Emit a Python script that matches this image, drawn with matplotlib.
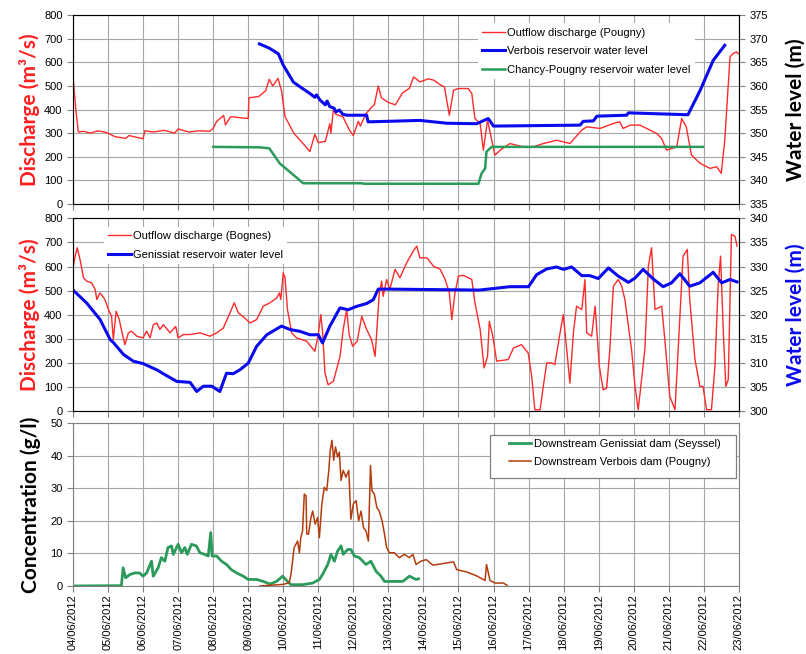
import matplotlib
matplotlib.use('Agg')
import matplotlib.pyplot as plt
from matplotlib.patches import Rectangle

# x = days since 04/06/2012 00:00
date_labels = ['%02d/06/2012' % d for d in range(4, 24)]

# top panel: Pougny discharge (m3/s)
pougny_q = [(0, 540), (0.08, 400), (0.15, 305), (0.3, 308), (0.5, 300), (0.7, 310), (0.9, 305),
            (1.0, 300), (1.2, 285), (1.5, 278), (1.6, 290), (1.8, 283), (2.0, 276), (2.05, 310),
            (2.3, 305), (2.6, 312), (2.9, 300), (3.0, 318), (3.3, 305), (3.6, 310), (3.9, 308),
            (4.0, 320), (4.1, 350), (4.3, 375), (4.35, 335), (4.5, 370), (4.8, 365), (5.0, 362),
            (5.02, 450), (5.3, 455), (5.5, 480), (5.6, 528), (5.7, 500), (5.85, 532), (5.95, 480),
            (6.05, 370), (6.3, 300), (6.6, 250), (6.76, 222), (6.9, 295), (7.0, 260), (7.2, 265),
            (7.33, 340), (7.36, 300), (7.43, 400), (7.5, 380), (7.7, 370), (7.9, 310), (8.0, 290),
            (8.14, 350), (8.2, 330), (8.35, 380), (8.52, 410), (8.6, 420), (8.71, 500), (8.8, 450),
            (9.0, 430), (9.2, 420), (9.4, 470), (9.6, 490), (9.72, 538), (9.9, 517), (10.14, 530),
            (10.3, 524), (10.5, 503), (10.6, 496), (10.74, 376), (10.86, 482), (11.0, 489),
            (11.28, 489), (11.38, 468), (11.47, 362), (11.62, 341), (11.71, 228), (11.83, 355),
            (11.9, 306), (12.04, 207), (12.19, 228), (12.47, 256), (12.85, 242), (13.13, 242),
            (13.42, 256), (13.8, 270), (14.0, 263), (14.18, 256), (14.52, 313), (14.66, 327),
            (15.04, 320), (15.42, 341), (15.6, 348), (15.7, 320), (15.9, 334), (16.18, 334),
            (16.37, 320), (16.66, 298), (16.8, 277), (16.94, 228), (17.23, 242), (17.37, 362),
            (17.5, 327), (17.65, 207), (17.9, 172), (18.18, 151), (18.37, 158), (18.5, 130),
            (18.6, 270), (18.75, 623), (18.84, 637), (18.94, 644), (19.0, 635)]

# top panel: water levels (m)
verbois_h = [(5.32, 368.9), (5.6, 368.0), (5.86, 366.8), (6.0, 364.4), (6.29, 360.8), (6.5, 359.7),
             (6.76, 358.4), (6.9, 357.6), (6.95, 358.1), (7.05, 357.0), (7.2, 356.0), (7.25, 356.8),
             (7.33, 355.6), (7.45, 355.3), (7.5, 354.5), (7.6, 354.9), (7.7, 354.0), (7.81, 353.8),
             (8.38, 353.8), (8.42, 352.4), (8.95, 352.5), (9.9, 352.7), (10.67, 352.1),
             (11.52, 352.0), (11.85, 353.1), (12.0, 351.5), (14.47, 351.7), (14.56, 352.5),
             (14.85, 352.6), (14.95, 353.6), (15.8, 353.8), (15.85, 354.3), (17.55, 353.9),
             (17.9, 359.1), (18.27, 365.4), (18.6, 368.6)]
chancy_h = [(4.0, 347.1), (5.33, 347.0), (5.6, 346.8), (5.9, 343.6), (6.57, 339.4), (8.24, 339.4),
            (8.3, 339.3), (11.57, 339.3), (11.66, 341.5), (11.76, 342.5), (11.8, 346.1),
            (11.95, 347.1), (17.98, 347.1)]

# middle panel: Bognes discharge (m3/s)
bognes_q = [(0, 594), (0.06, 643), (0.12, 678), (0.2, 629), (0.3, 553), (0.39, 539), (0.53, 532),
            (0.63, 504), (0.68, 463), (0.77, 490), (0.91, 463), (1.01, 421), (1.1, 393), (1.15, 296),
            (1.23, 414), (1.32, 379), (1.39, 331), (1.48, 275), (1.58, 324), (1.67, 331), (1.82, 310),
            (2.0, 303), (2.1, 331), (2.2, 303), (2.29, 358), (2.39, 365), (2.48, 338), (2.58, 358),
            (2.77, 324), (2.93, 351), (3.0, 303), (3.15, 317), (3.34, 317), (3.62, 324), (3.91, 310),
            (4.1, 324), (4.29, 344), (4.48, 407), (4.6, 449), (4.72, 407), (4.9, 386), (5.05, 365),
            (5.24, 379), (5.43, 435), (5.62, 449), (5.81, 469), (5.89, 490), (5.93, 463), (6.0, 574),
            (6.05, 553), (6.12, 421), (6.24, 324), (6.38, 303), (6.67, 289), (6.9, 247), (7.0, 317),
            (7.07, 400), (7.12, 331), (7.19, 157), (7.28, 108), (7.43, 122), (7.52, 171), (7.62, 226),
            (7.71, 338), (7.81, 421), (7.88, 317), (7.98, 268), (8.11, 289), (8.24, 393), (8.38, 338),
            (8.52, 296), (8.62, 226), (8.66, 310), (8.74, 490), (8.81, 539), (8.85, 476), (8.95, 546),
            (9.04, 504), (9.19, 588), (9.33, 553), (9.52, 615), (9.71, 664), (9.81, 685), (9.9, 636),
            (10.1, 636), (10.29, 601), (10.48, 588), (10.62, 546), (10.74, 490), (10.81, 379),
            (10.9, 490), (11.0, 560), (11.14, 563), (11.38, 546), (11.47, 449), (11.62, 338),
            (11.73, 178), (11.83, 226), (11.88, 372), (11.98, 310), (12.09, 206), (12.42, 213),
            (12.57, 261), (12.8, 275), (12.99, 240), (13.09, 143), (13.18, 4), (13.33, 4), (13.42, 101),
            (13.52, 199), (13.66, 199), (13.75, 192), (13.9, 324), (13.99, 400), (14.09, 254),
            (14.18, 115), (14.28, 324), (14.37, 435), (14.52, 421), (14.61, 546), (14.66, 324),
            (14.8, 310), (14.9, 435), (15.02, 185), (15.13, 87), (15.23, 94), (15.32, 254), (15.42, 518),
            (15.56, 546), (15.66, 518), (15.75, 462), (15.94, 254), (16.04, 101), (16.13, 4),
            (16.32, 254), (16.42, 601), (16.51, 678), (16.61, 421), (16.8, 435), (16.89, 296),
            (17.03, 60), (17.18, 4), (17.27, 254), (17.41, 643), (17.53, 671), (17.6, 462), (17.75, 213),
            (17.89, 101), (17.98, 101), (18.08, 4), (18.22, 4), (18.32, 185), (18.41, 518), (18.48, 643),
            (18.56, 324), (18.63, 101), (18.7, 129), (18.79, 733), (18.89, 726), (18.95, 685)]

# middle panel: Genissiat water level (m)
genissiat_h = [(0, 325.1), (0.39, 322.4), (0.77, 319.0), (1.06, 314.8), (1.15, 314.2), (1.44, 311.7),
               (1.72, 310.3), (2.0, 309.8), (2.39, 308.5), (2.67, 307.3), (2.96, 306.1), (3.34, 305.9),
               (3.53, 304.0), (3.72, 305.1), (3.96, 305.1), (4.19, 304.0), (4.38, 307.8), (4.57, 307.7),
               (4.76, 308.5), (5.0, 309.9), (5.24, 313.4), (5.53, 315.8), (5.81, 317.0), (5.95, 317.6),
               (6.19, 316.9), (6.48, 316.5), (6.76, 315.8), (7.0, 315.8), (7.12, 314.1), (7.33, 317.6),
               (7.62, 321.4), (7.85, 321.0), (8.09, 321.7), (8.38, 322.3), (8.57, 323.1), (8.71, 325.3),
               (8.95, 325.3), (11.6, 325.1), (12.47, 325.8), (13.0, 325.8), (13.23, 328.3), (13.52, 329.5),
               (13.8, 329.9), (14.0, 329.4), (14.23, 329.9), (14.52, 328.1), (14.75, 328.1),
               (14.99, 327.5), (15.28, 329.7), (15.56, 328.0), (15.85, 326.7), (16.04, 327.6),
               (16.27, 329.4), (16.56, 327.4), (16.84, 325.8), (17.08, 326.6), (17.32, 328.5),
               (17.6, 325.9), (17.89, 326.6), (18.27, 328.8), (18.51, 326.6), (18.75, 327.3),
               (18.95, 326.8)]

# bottom panel: suspended sediment concentration (g/l)
seyssel_c = [(0, 0), (1.38, 0.1), (1.43, 5.6), (1.5, 2.5), (1.62, 3.5), (1.76, 4.0), (1.9, 4.0),
             (2.0, 3.0), (2.1, 4.0), (2.24, 7.6), (2.29, 3.0), (2.43, 5.6), (2.52, 8.7), (2.62, 7.6),
             (2.71, 11.8), (2.81, 12.3), (2.86, 9.7), (3.0, 12.8), (3.1, 10.2), (3.19, 11.8),
             (3.26, 9.7), (3.38, 12.8), (3.52, 12.3), (3.62, 10.2), (3.76, 9.7), (3.86, 9.2),
             (3.93, 16.4), (3.97, 9.2), (4.1, 9.2), (4.24, 7.6), (4.38, 6.6), (4.52, 5.0), (4.67, 4.0),
             (4.86, 3.0), (5.0, 2.0), (5.24, 2.0), (5.43, 1.4), (5.62, 0.6), (5.81, 1.4), (5.98, 3.0),
             (6.12, 1.4), (6.22, 0.4), (6.55, 0.4), (6.84, 0.9), (7.03, 2.0), (7.12, 3.5), (7.27, 6.6),
             (7.36, 9.7), (7.46, 7.6), (7.55, 10.7), (7.65, 12.3), (7.71, 9.7), (7.84, 11.2),
             (7.93, 11.2), (8.03, 9.2), (8.17, 8.7), (8.36, 6.6), (8.5, 7.6), (8.65, 4.5), (8.79, 3.0),
             (8.89, 1.4), (9.12, 1.4), (9.41, 1.4), (9.6, 3.0), (9.79, 2.0), (9.86, 2.2)]
pougny_c = [(5.33, 0), (6.0, 0.5), (6.17, 1.0), (6.22, 3.5), (6.31, 11.8), (6.41, 13.8), (6.46, 10.2),
            (6.5, 14.8), (6.55, 16.9), (6.6, 28.2), (6.65, 27.7), (6.67, 16.0), (6.72, 15.9),
            (6.79, 21.0), (6.84, 23.0), (6.91, 19.0), (6.98, 21.0), (7.03, 14.8), (7.1, 25.0),
            (7.17, 30.3), (7.24, 29.3), (7.3, 35.5), (7.34, 41.6), (7.39, 44.7), (7.44, 38.6),
            (7.49, 42.7), (7.55, 39.6), (7.6, 41.1), (7.65, 32.4), (7.71, 35.5), (7.79, 33.4),
            (7.87, 35.5), (7.93, 20.5), (8.0, 25.2), (8.08, 26.2), (8.15, 20.0), (8.22, 23.0),
            (8.29, 17.9), (8.36, 16.9), (8.43, 13.8), (8.49, 37.0), (8.53, 29.3), (8.6, 28.2),
            (8.67, 24.1), (8.74, 23.0), (8.82, 20.0), (8.89, 15.9), (8.95, 11.8), (9.03, 10.2),
            (9.17, 10.2), (9.31, 8.7), (9.46, 9.7), (9.6, 8.7), (9.7, 9.7), (9.79, 6.6), (9.93, 7.6),
            (10.08, 8.1), (10.27, 6.4), (10.57, 6.9), (10.86, 7.4), (10.95, 5.0), (11.24, 4.3),
            (11.52, 3.1), (11.76, 1.7), (11.8, 6.6), (11.9, 1.7), (12.04, 0.9), (12.28, 0.9),
            (12.39, 0.2)]

plt.rcParams['font.family'] = ['Liberation Sans', 'DejaVu Sans']
plt.rcParams['font.size'] = 8
lab_font = dict(family=['Lato', 'DejaVu Sans'], weight='bold', size=15)

fig = plt.figure(figsize=(8.06, 6.54), dpi=100)


def style(ax):
    ax.set_xlim(0, 19)
    ax.set_xticks(range(20))
    ax.grid(True, color='#a6a6a6', lw=0.8)
    ax.set_axisbelow(True)
    for s in ax.spines.values():
        s.set_color('#808080')
    ax.tick_params(color='#808080', length=4, labelsize=8)
    ax.tick_params(axis='x', pad=2)


def xy(pairs):
    return [p[0] for p in pairs], [p[1] for p in pairs]


leg_kw = dict(frameon=True, edgecolor='none', facecolor='white', framealpha=1, fancybox=False,
              handlelength=2.0, handletextpad=0.2, labelspacing=0.75, fontsize=8)

# --- top panel
ax1 = fig.add_axes([0.0906, 0.688, 0.826, 0.289])
style(ax1)
ax1.set_ylim(0, 800)
ax1.set_yticks(range(0, 801, 100))
ax1.tick_params(labelbottom=False)
l1, = ax1.plot(*xy(pougny_q), color='#ff2a2a', lw=1, label='Outflow discharge (Pougny)')
ax1.set_ylabel('Discharge (m³/s)', color='#ff2020', labelpad=3, **lab_font)
ax1b = ax1.twinx()
ax1b.set_ylim(335, 375)
ax1b.set_yticks(range(335, 376, 5))
ax1b.tick_params(color='#808080', length=4, labelsize=8)
l2, = ax1b.plot(*xy(verbois_h), color='#0a0aee', lw=2.2, label='Verbois reservoir water level')
l3, = ax1b.plot(*xy(chancy_h), color='#2b9a5a', lw=1.8, label='Chancy-Pougny reservoir water level')
ax1b.set_ylabel('Water level (m)', color='black', labelpad=13, **lab_font)
ax1b.legend(handles=[l1, l2, l3], loc='upper left', bbox_to_anchor=(0.6, 0.985), **leg_kw)

# --- middle panel
ax2 = fig.add_axes([0.0906, 0.372, 0.826, 0.294])
style(ax2)
ax2.set_ylim(0, 800)
ax2.set_yticks(range(0, 801, 100))
ax2.tick_params(labelbottom=False)
m1, = ax2.plot(*xy(bognes_q), color='#ff2a2a', lw=1, label='Outflow discharge (Bognes)')
ax2.set_ylabel('Discharge (m³/s)', color='#ff2020', labelpad=3, **lab_font)
ax2b = ax2.twinx()
ax2b.set_ylim(300, 340)
ax2b.set_yticks(range(300, 341, 5))
ax2b.tick_params(color='#808080', length=4, labelsize=8)
m2, = ax2b.plot(*xy(genissiat_h), color='#0a0aee', lw=2.2, label='Genissiat reservoir water level')
ax2b.set_ylabel('Water level (m)', color='#0a0aee', labelpad=13, **lab_font)
ax2b.legend(handles=[m1, m2], loc='upper left', bbox_to_anchor=(0.038, 0.985), **leg_kw)

# --- bottom panel
ax3 = fig.add_axes([0.0906, 0.104, 0.826, 0.249])
style(ax3)
ax3.set_ylim(0, 50)
ax3.set_yticks(range(0, 51, 10))
ax3.set_xticklabels(date_labels, rotation=90)
c1, = ax3.plot(*xy(seyssel_c), color='#2b9a5a', lw=2, label='Downstream Genissiat dam (Seyssel)')
c2, = ax3.plot(*xy(pougny_c), color='#b33c0c', lw=1.1, label='Downstream Verbois dam (Pougny)')
ax3.set_ylabel('Concentration (g/l)', color='black', labelpad=7, **lab_font)
ax3.add_patch(Rectangle((0.626, 0.663), 0.3695, 0.263, transform=ax3.transAxes,
                        facecolor='white', edgecolor='#808080', lw=0.9, zorder=4))
leg3 = ax3.legend(handles=[c1, c2], loc='upper left', bbox_to_anchor=(0.655, 0.905),
                  borderaxespad=0, borderpad=0, frameon=False, handlelength=2.0,
                  handletextpad=0.2, labelspacing=0.75, fontsize=8)
leg3.set_zorder(5)

fig.savefig('out.png', dpi=100)
